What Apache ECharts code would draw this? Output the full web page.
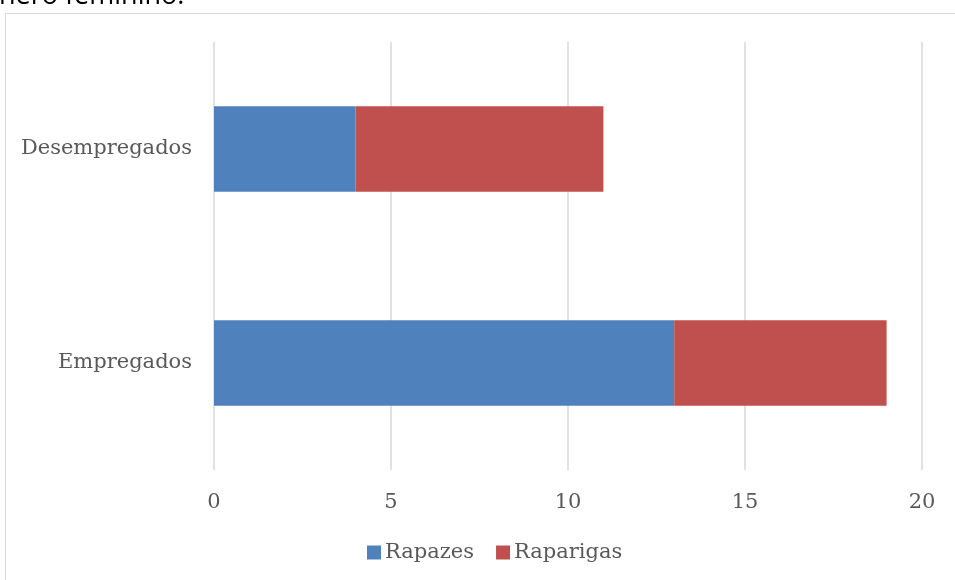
<!DOCTYPE html>
<html><head><meta charset="utf-8">
<script src="https://cdn.jsdelivr.net/npm/echarts@6/dist/echarts.min.js"></script>
<style>html,body{margin:0;padding:0;background:#fff;}#c{width:955px;height:580px;}</style>
</head><body><div id="c"></div>
<script>
const categories = ['Empregados', 'Desempregados'];
const seriesNames = ['Rapazes', 'Raparigas'];
const rapazes = [13, 4];
const raparigas = [6, 7];
const xTicks = [0, 5, 10, 15, 20];

const chart = echarts.init(document.getElementById('c'));
const serif = "'DejaVu Serif', 'Liberation Serif', serif";
chart.setOption({
  animation: false,
  backgroundColor: '#fff',
  graphic: [
    { type: 'rect', shape: { x: 5.5, y: 13.5, width: 1000, height: 1000 }, style: { fill: 'none', stroke: '#d9d9d9', lineWidth: 1 } },
    { type: 'text', x: -1, y: 10, style: { text: 'nero feminino.', font: "27px 'Open Sans', 'DejaVu Sans', sans-serif", fill: '#000', verticalAlign: 'bottom' } }
  ],
  legend: {
    data: seriesNames,
    bottom: 12,
    left: 362,
    itemWidth: 14, itemHeight: 14, itemGap: 22,
    icon: 'rect',
    textStyle: { fontFamily: serif, fontSize: 21, color: '#595959', padding: [0, 0, 0, -1] }
  },
  grid: { left: 214, right: 33, top: 42, bottom: 110, containLabel: false },
  xAxis: {
    type: 'value', min: 0, max: 20, interval: 5,
    axisLine: { show: false }, axisTick: { show: false },
    splitLine: { lineStyle: { color: '#d9d9d9', width: 1.5 } },
    axisLabel: { fontFamily: serif, fontSize: 21, color: '#595959', margin: 22,
      formatter: v => xTicks.includes(v) ? String(v) : '' }
  },
  yAxis: {
    type: 'category', data: categories,
    axisLine: { show: false }, axisTick: { show: false },
    axisLabel: { fontFamily: serif, fontSize: 21, color: '#595959', margin: 22 }
  },
  series: [
    { name: seriesNames[0], type: 'bar', stack: 't', data: rapazes, barWidth: '40%', itemStyle: { color: '#4F81BD' } },
    { name: seriesNames[1], type: 'bar', stack: 't', data: raparigas, barWidth: '40%', itemStyle: { color: '#C0504D' } }
  ]
});
</script></body></html>
